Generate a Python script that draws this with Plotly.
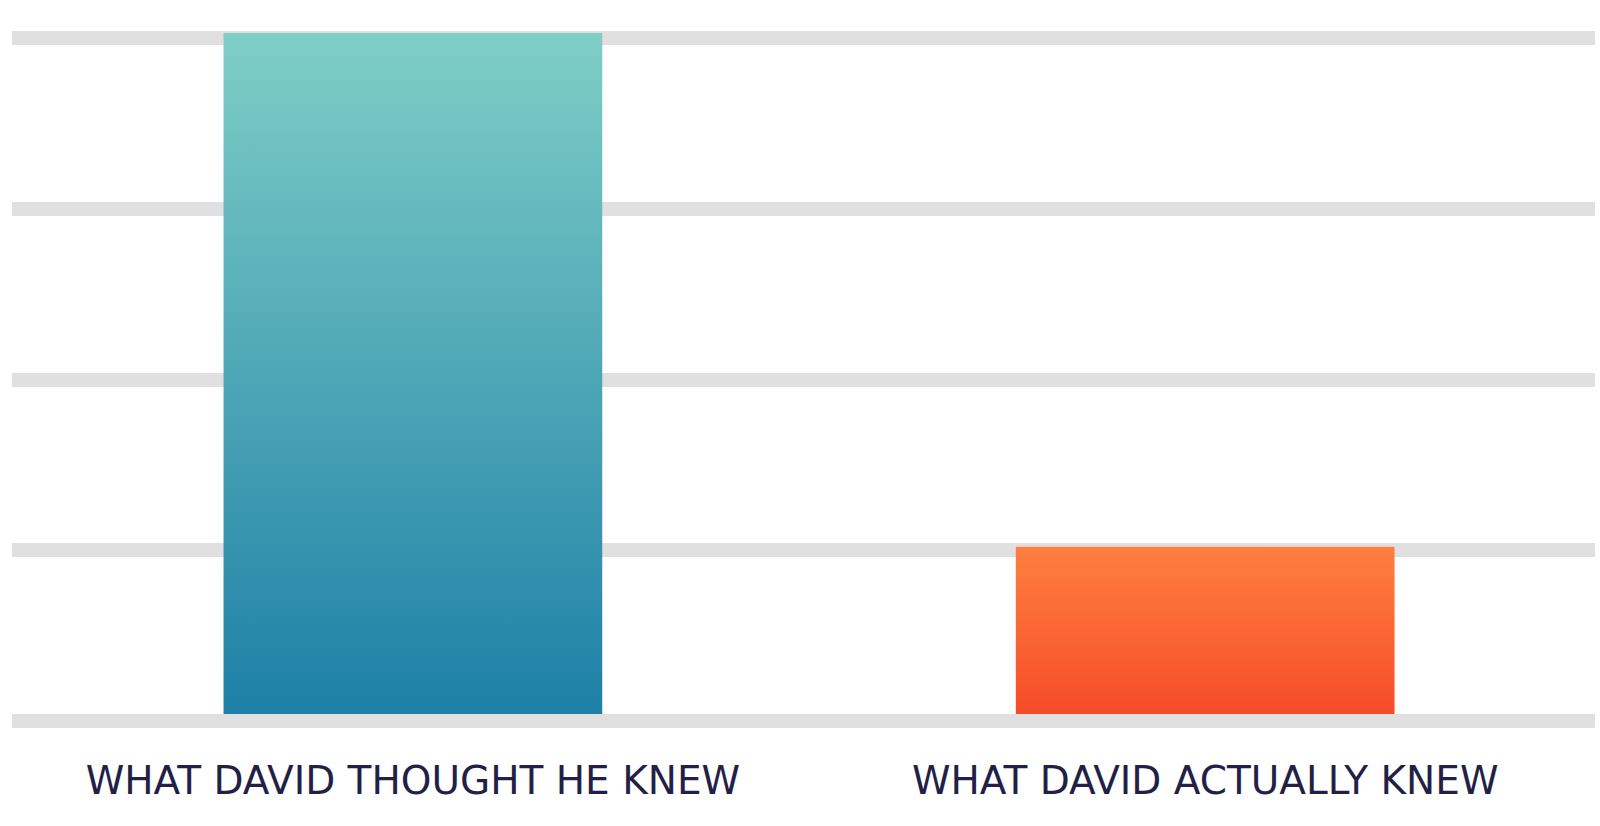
import plotly.graph_objects as go

# data
categories = ["WHAT DAVID THOUGHT HE KNEW", "WHAT DAVID ACTUALLY KNEW"]
values = [4.03, 1.02]
grid_levels = [0, 1, 2, 3, 4]
top_colors = ["#7fcec6", "#ff7f3f"]
bottom_colors = ["#1c7fa6", "#f54a27"]

BAR_WIDTH = 0.478
GRID_COLOR = "#e0e0e0"

fig = go.Figure()

# plotly bars can't take a gradient, so each bar is a filled box on the same axes
for i, (cat, v) in enumerate(zip(categories, values)):
    x0, x1 = i - BAR_WIDTH / 2, i + BAR_WIDTH / 2
    fig.add_trace(go.Scatter(
        x=[x0, x1, x1, x0, x0],
        y=[0, 0, v, v, 0],
        mode="lines",
        line=dict(width=0),
        fill="toself",
        fillgradient=dict(type="vertical",
                          colorscale=[[0, bottom_colors[i]], [1, top_colors[i]]]),
        name=cat,
        hoverinfo="skip",
        showlegend=False))

# bottom gridline sits in front of the bar bases
fig.add_shape(type="line", xref="paper", yref="y", x0=0, x1=1, y0=0, y1=0,
              line=dict(color=GRID_COLOR, width=14), layer="above")

fig.update_layout(
    width=1600, height=826,
    paper_bgcolor="white", plot_bgcolor="white",
    margin=dict(l=12, r=5, t=21, b=88),
    showlegend=False,
    xaxis=dict(range=[-0.506, 1.492], tickvals=[0, 1], ticktext=categories,
               showgrid=False, zeroline=False, showline=False, ticks="",
               ticklabelstandoff=16,
               tickfont=dict(family="DejaVu Sans", size=39, color="#231f46"),
               fixedrange=True),
    yaxis=dict(range=[-0.1, 4.1], tickvals=grid_levels, showticklabels=False,
               showgrid=True, gridcolor=GRID_COLOR, gridwidth=14,
               zeroline=False, showline=False, ticks="", fixedrange=True),
)

# drop the browser's default body margin so the figure fills the window
fig.write_html("out.html", config={"displayModeBar": False},
               post_script="document.body.style.margin='0';")
